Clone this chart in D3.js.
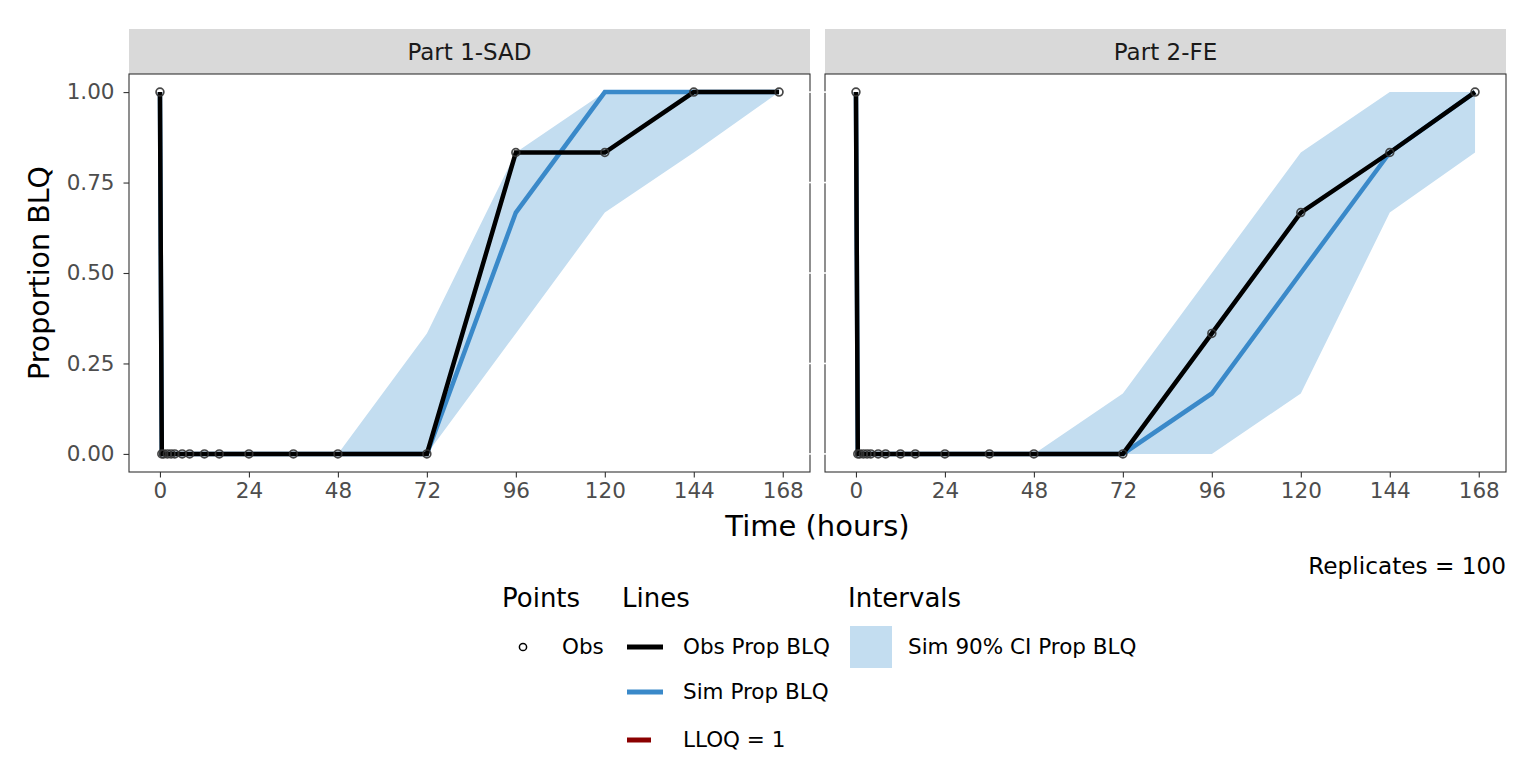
<!DOCTYPE html>
<html>
<head>
<meta charset="utf-8">
<title>Proportion BLQ VPC</title>
<script src="https://cdnjs.cloudflare.com/ajax/libs/d3/7.8.5/d3.min.js"></script>
<style>
  body { margin: 0; background: #fff; }
  text { font-family: "DejaVu Sans", sans-serif; }
</style>
</head>
<body>
<div id="container"></div>
<script>
// ---- data ----
var panels = ["Part 1-SAD", "Part 2-FE"];
var times = [0, 0.5, 1, 2, 3, 4, 6, 8, 12, 16, 24, 36, 48, 72, 96, 120, 144, 167];
var obsSAD = [1, 0, 0, 0, 0, 0, 0, 0, 0, 0, 0, 0, 0, 0, 0.833, 0.833, 1, 1];
var obsFE  = [1, 0, 0, 0, 0, 0, 0, 0, 0, 0, 0, 0, 0, 0, 0.333, 0.667, 0.833, 1];
var simSAD = [1, 0, 0, 0, 0, 0, 0, 0, 0, 0, 0, 0, 0, 0, 0.667, 1, 1, 1];
var simFE  = [1, 0, 0, 0, 0, 0, 0, 0, 0, 0, 0, 0, 0, 0, 0.167, 0.5, 0.833, 1];
var loSAD  = [1, 0, 0, 0, 0, 0, 0, 0, 0, 0, 0, 0, 0, 0, 0.333, 0.667, 0.833, 1];
var hiSAD  = [1, 0, 0, 0, 0, 0, 0, 0, 0, 0, 0, 0, 0, 0.333, 0.833, 1, 1, 1];
var loFE   = [1, 0, 0, 0, 0, 0, 0, 0, 0, 0, 0, 0, 0, 0, 0, 0.167, 0.667, 0.833];
var hiFE   = [1, 0, 0, 0, 0, 0, 0, 0, 0, 0, 0, 0, 0, 0.167, 0.5, 0.833, 1, 1];
var xTicks = [0, 24, 48, 72, 96, 120, 144, 168];
var yTicks = [0, 0.25, 0.5, 0.75, 1];
var replicates = 100;
var lloq = 1;

var series = [
  {obs: obsSAD, sim: simSAD, lo: loSAD, hi: hiSAD},
  {obs: obsFE, sim: simFE, lo: loFE, hi: hiFE}
];

// ---- layout ----
var w = 1536, h = 768;
var panelLeft = [129, 825];
var panelW = 681;
var stripTop = 29, panelTop = 74, panelBottom = 472;
var smallFont = 21.5, titleFont = 27;
var blackCol = "#000000", blueCol = "#3a89c9", bandCol = "#c3ddf0", lloqCol = "#8b0000";

var svg = d3.select("#container").append("svg")
    .attr("width", w).attr("height", h);

var x = d3.scaleLinear().domain([-8.35, 175.35]).range([0, panelW]);
var y = d3.scaleLinear().domain([-0.05, 1.05]).range([panelBottom, panelTop]);

panels.forEach(function(name, p) {
  var s = series[p];
  var g = svg.append("g").attr("transform", "translate(" + panelLeft[p] + ",0)");

  // strip
  g.append("rect").attr("x", 0).attr("y", stripTop)
    .attr("width", panelW).attr("height", panelTop - stripTop)
    .attr("fill", "#d9d9d9");
  g.append("text").attr("x", panelW / 2).attr("y", 60)
    .attr("text-anchor", "middle").attr("font-size", 23)
    .attr("fill", "#1a1a1a").text(name);

  g.append("clipPath").attr("id", "clip" + p).append("rect")
    .attr("x", 0).attr("y", panelTop).attr("width", panelW).attr("height", panelBottom - panelTop);
  var plot = g.append("g").attr("clip-path", "url(#clip" + p + ")");

  var pts = times.map(function(t, i) {
    return {t: t, obs: s.obs[i], sim: s.sim[i], lo: s.lo[i], hi: s.hi[i]};
  });

  // interval band
  plot.append("path").datum(pts)
    .attr("fill", bandCol)
    .attr("d", d3.area()
      .x(function(d) { return x(d.t); })
      .y0(function(d) { return y(d.lo); })
      .y1(function(d) { return y(d.hi); }));

  // sim line
  plot.append("path").datum(pts)
    .attr("fill", "none").attr("stroke", blueCol).attr("stroke-width", 4.5)
    .attr("d", d3.line()
      .x(function(d) { return x(d.t); })
      .y(function(d) { return y(d.sim); }));

  // obs line
  plot.append("path").datum(pts)
    .attr("fill", "none").attr("stroke", blackCol).attr("stroke-width", 4.5)
    .attr("d", d3.line()
      .x(function(d) { return x(d.t); })
      .y(function(d) { return y(d.obs); }));

  // obs points
  plot.selectAll("circle.obs").data(pts).enter().append("circle")
    .attr("class", "obs")
    .attr("cx", function(d) { return x(d.t); })
    .attr("cy", function(d) { return y(d.obs); })
    .attr("r", 3.9)
    .attr("fill", "none").attr("stroke", "#333").attr("stroke-opacity", 0.9)
    .attr("stroke-width", 1.7);

  // frame
  g.append("rect").attr("x", 0).attr("y", panelTop)
    .attr("width", panelW).attr("height", panelBottom - panelTop)
    .attr("fill", "none").attr("stroke", "#333").attr("stroke-width", 1.1);

  // x axis
  var xAxis = g.append("g").attr("transform", "translate(0," + panelBottom + ")")
    .call(d3.axisBottom(x).tickValues(xTicks).tickSize(5.5).tickPadding(5).tickFormat(d3.format("d")));
  xAxis.select(".domain").remove();
  xAxis.selectAll(".tick line").attr("stroke", "#333").attr("stroke-width", 1.1);
  xAxis.selectAll("text").attr("font-size", smallFont).attr("fill", "#4d4d4d")
    .attr("font-family", "DejaVu Sans");

  if (p === 0) {
    var yAxis = g.append("g")
      .call(d3.axisLeft(y).tickValues(yTicks).tickSize(5.5).tickPadding(9).tickFormat(d3.format(".2f")));
    yAxis.select(".domain").remove();
    yAxis.selectAll(".tick line").attr("stroke", "#333").attr("stroke-width", 1.1);
    yAxis.selectAll("text").attr("font-size", smallFont).attr("fill", "#4d4d4d")
      .attr("font-family", "DejaVu Sans");
    // small white notches on the right border
    g.selectAll("line.notch").data(yTicks).enter().append("line")
      .attr("x1", panelW - 3).attr("x2", panelW + 3)
      .attr("y1", function(d) { return y(d); }).attr("y2", function(d) { return y(d); })
      .attr("stroke", "#fff").attr("stroke-width", 1.6);
  } else {
    g.selectAll("line.notch").data(yTicks).enter().append("line")
      .attr("x1", -3).attr("x2", 3)
      .attr("y1", function(d) { return y(d); }).attr("y2", function(d) { return y(d); })
      .attr("stroke", "#fff").attr("stroke-width", 1.6);
  }
});

// axis titles
svg.append("text").attr("x", (panelLeft[0] + panelLeft[1] + panelW) / 2).attr("y", 536)
  .attr("text-anchor", "middle").attr("font-size", 29).text("Time (hours)");
svg.append("text").attr("transform", "translate(49," + (panelTop + panelBottom) / 2 + ") rotate(-90)")
  .attr("text-anchor", "middle").attr("font-size", 28.5).text("Proportion BLQ");

// caption
svg.append("text").attr("x", panelLeft[1] + panelW).attr("y", 574)
  .attr("text-anchor", "end").attr("font-size", 23.2).text("Replicates = " + replicates);

// legend
var leg = svg.append("g");
var titleY = 607, rowY = [647, 692, 740];
leg.append("text").attr("x", 502).attr("y", titleY).attr("font-size", titleFont - 1).text("Points");
leg.append("text").attr("x", 622).attr("y", titleY).attr("font-size", titleFont - 1).text("Lines");
leg.append("text").attr("x", 848).attr("y", titleY).attr("font-size", titleFont - 1).text("Intervals");

leg.append("circle").attr("cx", 523).attr("cy", rowY[0]).attr("r", 3.6)
  .attr("fill", "none").attr("stroke", "#000").attr("stroke-width", 1.5);
leg.append("text").attr("x", 562).attr("y", rowY[0] + 7).attr("font-size", smallFont).text("Obs");

var lineKeys = [
  {label: "Obs Prop BLQ", col: blackCol, len: 36},
  {label: "Sim Prop BLQ", col: blueCol, len: 36},
  {label: "LLOQ = " + lloq, col: lloqCol, len: 24}
];
lineKeys.forEach(function(k, i) {
  leg.append("line").attr("x1", 627).attr("x2", 627 + k.len)
    .attr("y1", rowY[i]).attr("y2", rowY[i])
    .attr("stroke", k.col).attr("stroke-width", 5);
  leg.append("text").attr("x", 683).attr("y", rowY[i] + 7).attr("font-size", smallFont).text(k.label);
});

leg.append("rect").attr("x", 850).attr("y", 626).attr("width", 42).attr("height", 42)
  .attr("fill", bandCol);
leg.append("text").attr("x", 908).attr("y", rowY[0] + 7).attr("font-size", smallFont).text("Sim 90% CI Prop BLQ");
</script>
</body>
</html>
